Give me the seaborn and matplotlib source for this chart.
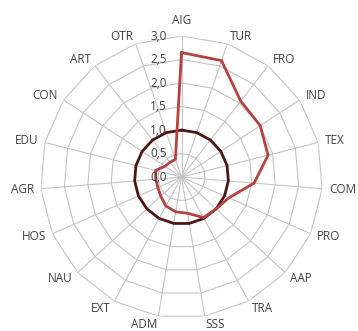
import numpy as np
import pandas as pd
import matplotlib
matplotlib.use('Agg')
import matplotlib.pyplot as plt
import seaborn as sns

# categories clockwise from the top
categories = ['AIG', 'TUR', 'FRO', 'IND', 'TEX', 'COM', 'PRO', 'AAP', 'TRA', 'SSS',
              'ADM', 'EXT', 'NAU', 'HOS', 'AGR', 'EDU', 'CON', 'ART', 'OTR']
series_red = [2.65, 2.62, 2.05, 2.0, 1.9, 1.55, 1.1, 1.0, 0.98, 0.78,
              0.75, 0.7, 0.6, 0.55, 0.55, 0.57, 0.42, 0.4, 0.4]
series_ref = [1.0] * 19
rings = [0.0, 0.5, 1.0, 1.5, 2.0, 2.5, 3.0]
ring_labels = ['0,0', '0,5', '1,0', '1,5', '2,0', '2,5', '3,0']

sns.set_style('white')
plt.rcParams['font.family'] = ['Open Sans', 'DejaVu Sans']

n = len(categories)
theta = np.linspace(0, 2 * np.pi, n, endpoint=False)
theta_c = np.append(theta, 2 * np.pi)

fig = plt.figure(figsize=(3.58, 3.31), dpi=100)
ax = fig.add_axes([0.113, 0.039, 0.788, 0.852], projection='polar')
ax.set_theta_zero_location('N')
ax.set_theta_direction(-1)
ax.set_ylim(0, 3.0)
ax.grid(False)
ax.spines['polar'].set_visible(False)
ax.set_xticks([])
ax.set_yticks([])

grid_col = '#c4c4c4'
# polygon rings
for r in rings[1:]:
    ax.plot(theta_c, [r] * (n + 1), color=grid_col, lw=0.8, zorder=1)
# spokes
for t in theta:
    ax.plot([t, t], [0, 3.0], color=grid_col, lw=0.8, zorder=1)

df_ref = pd.DataFrame({'theta': theta_c, 'value': series_ref + series_ref[:1]})
df_red = pd.DataFrame({'theta': theta_c, 'value': series_red + series_red[:1]})
sns.lineplot(data=df_ref, x='theta', y='value', sort=False, color='#4d1515',
             lw=2.0, ax=ax, zorder=3)
sns.lineplot(data=df_red, x='theta', y='value', sort=False, color='#b5423f',
             lw=2.0, ax=ax, zorder=4)
ax.set_xlabel('')
ax.set_ylabel('')

txt_col = '#404040'
for r, lab in zip(rings, ring_labels):
    ax.annotate(lab, xy=(0, r), xytext=(-10.5, 0), textcoords='offset points',
                ha='right', va='center', fontsize=8.5, color=txt_col, zorder=5)

px = 0.72  # points per pixel at 100 dpi
for t, lab in zip(theta, categories):
    s, c = np.sin(t), np.cos(t)
    if abs(s) < 0.1:
        ha, dx, dy = 'center', 0, 16 * np.sign(c)
    else:
        ha = 'left' if s > 0 else 'right'
        dx, dy = 7 * s, 8 * c
    ax.annotate(lab, xy=(t, 3.0), xytext=(dx * px, dy * px),
                textcoords='offset points', ha=ha, va='center',
                fontsize=8.5, color=txt_col)

fig.savefig('out.png', dpi=100)
